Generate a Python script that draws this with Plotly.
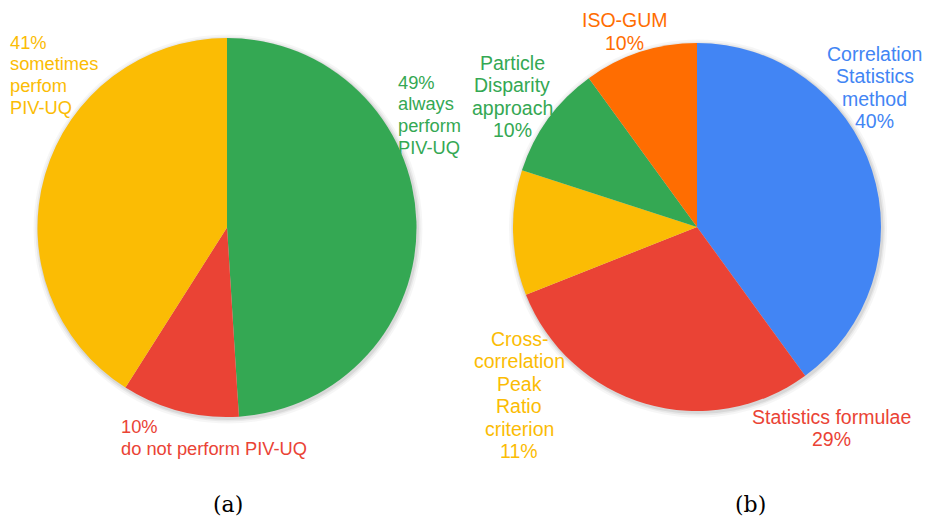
import plotly.graph_objects as go

W, H = 928, 517

# Data
a_labels = ["always perform PIV-UQ", "do not perform PIV-UQ", "sometimes perfom PIV-UQ"]
a_values = [49, 10, 41]
a_colors = ["#34A853", "#EA4335", "#FBBC04"]

b_labels = ["Correlation Statistics method", "Statistics formulae",
            "Cross-correlation Peak Ratio criterion", "Particle Disparity approach", "ISO-GUM"]
b_values = [40, 29, 11, 10, 10]
b_colors = ["#4285F4", "#EA4335", "#FBBC04", "#34A853", "#FF6D01"]

captions = ["(a)", "(b)"]


def px_x(x):
    return x / W


def px_y(y):
    return 1 - y / H


def dom(cx, cy, r):
    return dict(x=[px_x(cx - r), px_x(cx + r)], y=[px_y(cy + r), px_y(cy - r)])


fig = go.Figure()

# soft shadow behind each pie
for cx, cy, r in [(227, 227.5, 189.5), (697, 227, 184)]:
    for extra, alpha in [(5, 0.035), (3, 0.05), (1.5, 0.07)]:
        fig.add_trace(go.Pie(values=[1], sort=False, textinfo="none", hoverinfo="skip",
                             marker=dict(colors=[f"rgba(0,0,0,{alpha})"], line=dict(width=0)),
                             domain=dom(cx + 1, cy + 1.5, r + extra), showlegend=False))

fig.add_trace(go.Pie(
    labels=a_labels, values=a_values, sort=False, direction="clockwise", rotation=0,
    marker=dict(colors=a_colors, line=dict(width=0)), textinfo="none", hoverinfo="label+percent",
    domain=dom(227, 227.5, 189.5), showlegend=False,
))
fig.add_trace(go.Pie(
    labels=b_labels, values=b_values, sort=False, direction="clockwise", rotation=0,
    marker=dict(colors=b_colors, line=dict(width=0)), textinfo="none", hoverinfo="label+percent",
    domain=dom(697, 227, 184), showlegend=False,
))

FONT = "Arial"


def label(lines, x, cap_top, spacing, fs, color, xanchor):
    off = 1 + 0.23 * fs
    for i, line in enumerate(lines):
        fig.add_annotation(text=line, x=px_x(x), y=px_y(cap_top + i * spacing - off),
                           xref="paper", yref="paper", xanchor=xanchor, yanchor="top",
                           showarrow=False, font=dict(family=FONT, size=fs, color=color))


FL, SL = 18.3, 21.7   # left pie label font / line spacing
FR, SR = 19.5, 22.5   # right pie label font / line spacing

# Left pie labels
label([f"{a_values[2]}%", "sometimes", "perfom", "PIV-UQ"], 8, 35, SL, FL, a_colors[2], "left")
label([f"{a_values[0]}%", "always", "perform", "PIV-UQ"], 396, 75, SL, FL, a_colors[0], "left")
label([f"{a_values[1]}%", "do not perform PIV-UQ"], 119, 419.5, SL, FL, a_colors[1], "left")

# Right pie labels
label(["Correlation", "Statistics", "method", f"{b_values[0]}%"], 874.7, 46, SR, FR, b_colors[0], "center")
label(["Statistics formulae", f"{b_values[1]}%"], 831.5, 409, SR, FR, b_colors[1], "center")
label(["Cross-", "correlation", "Peak", "Ratio", "criterion", f"{b_values[2]}%"], 519, 331, SR, FR, b_colors[2], "center")
label(["Particle", "Disparity", "approach", f"{b_values[3]}%"], 512, 55, SR, FR, b_colors[3], "center")
label(["ISO-GUM", f"{b_values[4]}%"], 624.5, 12.7, SR, FR, b_colors[4], "center")

# Captions
for txt, x in zip(captions, [227.5, 750]):
    fig.add_annotation(text=txt, x=px_x(x), y=px_y(504), xref="paper", yref="paper",
                       xanchor="center", yanchor="middle", showarrow=False,
                       font=dict(family="DejaVu Serif, Liberation Serif, serif", size=22, color="#000000"))

fig.update_layout(width=W, height=H, margin=dict(l=0, r=0, t=0, b=0),
                  paper_bgcolor="white", plot_bgcolor="white")

fig.write_html("out.html", config={"displayModeBar": False},
               post_script="document.body.style.margin='0';document.body.style.overflow='hidden';")
